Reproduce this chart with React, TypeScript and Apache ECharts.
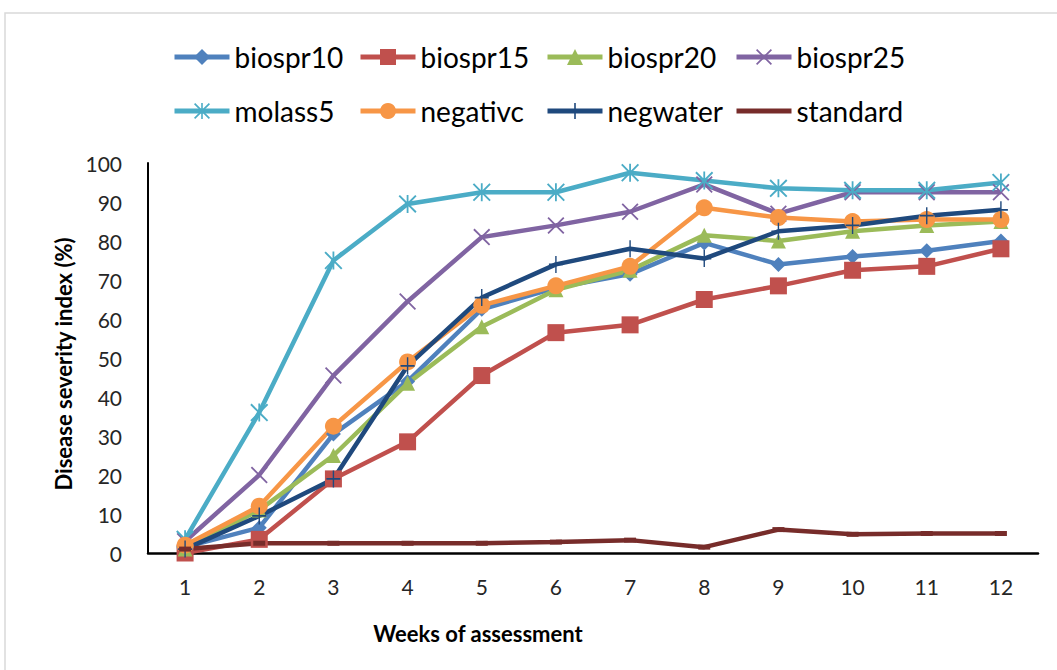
import React, { useEffect, useRef } from "react";
import * as echarts from "echarts";

const weeks = ["1", "2", "3", "4", "5", "6", "7", "8", "9", "10", "11", "12"];
const seriesNames = ["biospr10", "biospr15", "biospr20", "biospr25", "molass5", "negativc", "negwater", "standard"];
const biospr10 = [1.5, 6.5, 30.5, 44, 62.5, 68, 71.5, 79.5, 74, 76, 77.5, 80];
const biospr15 = [0, 3.5, 19, 28.5, 45.5, 56.5, 58.5, 65, 68.5, 72.5, 73.5, 78];
const biospr20 = [1, 11, 25, 43.5, 58, 67.5, 72.5, 81.5, 80, 82.5, 84, 85];
const biospr25 = [3, 20, 45.5, 64.5, 81, 84, 87.5, 94.5, 87, 92.5, 92.5, 92.5];
const molass5 = [3.5, 36, 75, 89.5, 92.5, 92.5, 97.5, 95.5, 93.5, 93, 93, 95];
const negativc = [2, 12, 32.5, 49, 63.5, 68.5, 73.5, 88.5, 86, 85, 85.5, 85.5];
const negwater = [1, 9.5, 19, 48, 65.5, 74, 78, 75.5, 82.5, 84, 86.5, 88];
const standard = [1, 2.5, 2.5, 2.5, 2.5, 2.8, 3.3, 1.5, 6, 4.8, 5, 5];
const seriesData = [biospr10, biospr15, biospr20, biospr25, molass5, negativc, negwater, standard];
const colors = ["#4F81BD", "#C0504D", "#9BBB59", "#8064A2", "#4BACC6", "#F79646", "#1F497D", "#772C2A"];

const xPath =
  "path://M0,1.5 L1.5,0 L10,8.5 L18.5,0 L20,1.5 L11.5,10 L20,18.5 L18.5,20 L10,11.5 L1.5,20 L0,18.5 L8.5,10 Z";
const starPath =
  "path://M0,1.5 L1.5,0 L10,8.5 L18.5,0 L20,1.5 L11.5,10 L20,18.5 L18.5,20 L10,11.5 L1.5,20 L0,18.5 L8.5,10 Z M9,0 L11,0 L11,20 L9,20 Z";
const plusPath = "path://M9,0 H11 V9 H20 V11 H11 V20 H9 V11 H0 V9 H9 Z";

const symbols: any[] = ["diamond", "rect", "triangle", xPath, starPath, "circle", plusPath, "rect"];
const symbolSizes: any[] = [15, 17, 15, 17, 18, 17, [14, 17], [12, 5]];

const legendLeft = [172, 358, 545, 734];
const legendTop = [43, 97];

export default function App() {
  const ref = useRef<HTMLDivElement>(null);
  useEffect(() => {
    if (!ref.current) return;
    const chart = echarts.init(ref.current, null, { renderer: "svg" });
    const font = "Lato, 'Open Sans', sans-serif";
    const option: any = {
      animation: false,
      backgroundColor: "#ffffff",
      legend: seriesNames.map((n, i) => {
        const lg: any = {
          data: [n],
          left: legendLeft[i % 4],
          top: legendTop[Math.floor(i / 4)],
          padding: 0,
          itemGap: 0,
          itemWidth: 55,
          itemHeight: 20,
          lineStyle: { width: 5 },
          textStyle: { fontFamily: font, fontSize: 28, color: "#000000" },
        };
        if (i === 7) lg.itemStyle = { color: "rgba(0,0,0,0)", opacity: 0 };
        return lg;
      }),
      grid: { left: 148, right: 19, top: 163, bottom: 117, containLabel: false },
      xAxis: {
        type: "category",
        data: weeks,
        boundaryGap: true,
        axisLine: { show: true, lineStyle: { color: "#000000", width: 2.5 } },
        axisTick: { show: false },
        axisLabel: { fontFamily: font, fontSize: 21, color: "#262626", margin: 23 },
        splitLine: { show: false },
      },
      yAxis: {
        type: "value",
        min: 0,
        max: 100,
        interval: 10,
        axisLine: { show: true, lineStyle: { color: "#000000", width: 2 } },
        axisTick: { show: false },
        axisLabel: { fontFamily: font, fontSize: 21, color: "#262626", margin: 26 },
        splitLine: { show: false },
      },
      graphic: [
        {
          type: "rect",
          shape: { x: 5, y: 13, width: 1200, height: 800 },
          style: { fill: "none", stroke: "#d9d9d9", lineWidth: 1.5 },
          silent: true,
          z: -10,
        },
        {
          type: "text",
          x: 478,
          y: 633,
          style: {
            text: "Weeks of assessment",
            fontFamily: font,
            fontWeight: "bold",
            fontSize: 22,
            fill: "#000000",
            textAlign: "center",
            textVerticalAlign: "middle",
          },
        },
        {
          type: "text",
          x: 63,
          y: 364,
          rotation: Math.PI / 2,
          style: {
            text: "Disease severity index (%)",
            fontFamily: font,
            fontWeight: "bold",
            fontSize: 22,
            fill: "#000000",
            textAlign: "center",
            textVerticalAlign: "middle",
          },
        },
      ],
      series: seriesNames.map((n, i) => ({
        name: n,
        type: "line",
        data: seriesData[i],
        symbol: symbols[i],
        symbolSize: symbolSizes[i],
        showSymbol: true,
        showAllSymbol: true,
        lineStyle: { color: colors[i], width: 4.5 },
        itemStyle: { color: colors[i], borderWidth: 0 },
        emphasis: { disabled: true },
      })),
    };
    chart.setOption(option);
    return () => chart.dispose();
  }, []);
  return (
    <div
      ref={ref}
      style={{ position: "absolute", left: 0, top: 0, width: 1057, height: 670 }}
    />
  );
}
